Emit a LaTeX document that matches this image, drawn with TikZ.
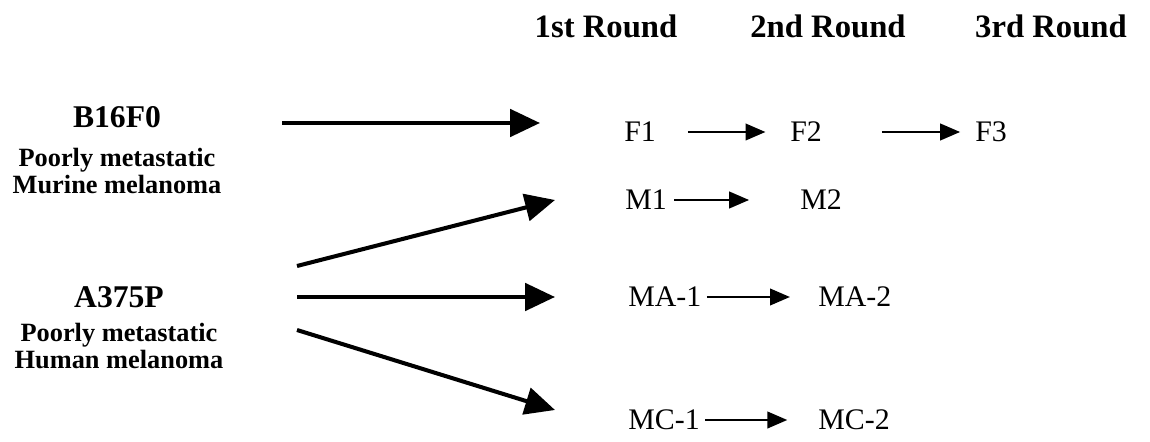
\documentclass[tikz,border=0pt]{standalone}
\usepackage{fontspec}
\setmainfont{Liberation Serif}
\usetikzlibrary{arrows.meta,positioning}
\tikzstyle{head}=[font=\fontsize{18.6}{20}\selectfont\bfseries,anchor=base,inner sep=0pt]
\tikzstyle{line}=[font=\fontsize{18}{20}\selectfont\bfseries,anchor=base,inner sep=0pt]
\tikzstyle{desc}=[font=\fontsize{15}{15.9}\selectfont\bfseries,align=center,anchor=base,inner sep=0pt]
\tikzstyle{clone}=[font=\fontsize{17}{19}\selectfont,anchor=west,inner sep=0pt]
\tikzstyle{big}=[line width=2.3pt,-{Triangle[length=17pt,width=15.5pt]}]
\tikzstyle{small}=[line width=1pt,-{Triangle[length=11.3pt,width=9.5pt]}]

\begin{document}
\begin{tikzpicture}[x=0.02cm,y=-0.02cm]
      \useasboundingbox (0,0) rectangle (1150,442);
      % round headings
      \node[head] at (606, 38) (r1) {1st Round};
      \node[head] at (828, 38) (r2) {2nd Round};
      \node[head] at (1051, 38) (r3) {3rd Round};
      % parent lines
      \node[line] at (117, 128) (b16) {B16F0};
      \node[desc] at (117, 194) (b16d) {Poorly metastatic\\Murine melanoma};
      \node[line] at (119, 308) (a375) {A375P};
      \node[desc] at (119, 369) (a375d) {Poorly metastatic\\Human melanoma};
      % selected clones
      \node[clone] at (624, 132) (f1) {F1};
      \node[clone] at (790, 132) (f2) {F2};
      \node[clone] at (975, 132) (f3) {F3};
      \node[clone] at (625, 200) (m1) {M1};
      \node[clone] at (800, 200) (m2) {M2};
      \node[clone] at (628, 297) (ma1) {MA-1};
      \node[clone] at (818, 297) (ma2) {MA-2};
      \node[clone] at (628, 420) (mc1) {MC-1};
      \node[clone] at (818, 420) (mc2) {MC-2};
      % ends of the injection arrows
      \coordinate (b16s) at (282, 123);
      \coordinate (b16t) at (540, 123);
      \coordinate (a375s1) at (297, 266);
      \coordinate (a375t1) at (555, 200);
      \coordinate (a375s2) at (297, 297);
      \coordinate (a375t2) at (555, 297);
      \coordinate (a375s3) at (297, 330);
      \coordinate (a375t3) at (555, 410);
      \draw[big] (b16s) -- (b16t);
      \draw[big] (a375s1) -- (a375t1);
      \draw[big] (a375s2) -- (a375t2);
      \draw[big] (a375s3) -- (a375t3);
      % rounds
      \draw[small, shorten <=18pt, shorten >=14pt] (f1.east) -- (f2.west);
      \draw[small, shorten <=34pt, shorten >=8.5pt] (f2.east) -- (f3.west);
      \draw[small, shorten <=4pt, shorten >=29pt] (m1.east) -- (m2.west);
      \draw[small, shorten <=3pt, shorten >=16pt] (ma1.east) -- (ma2.west);
      \draw[small, shorten <=3pt, shorten >=17.5pt] (mc1.east) -- (mc2.west);
  	\end{tikzpicture}
\end{document}
